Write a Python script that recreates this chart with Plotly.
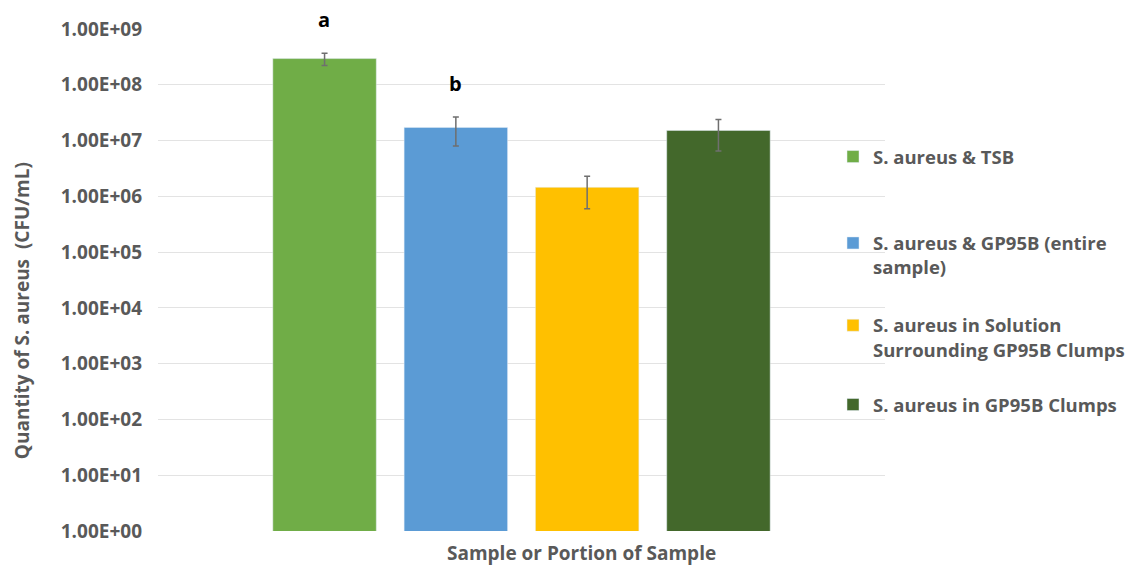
import math
import plotly.graph_objects as go

series_names = ["S. aureus & TSB", "S. aureus & GP95B (entire<br>sample)",
                "S. aureus in Solution<br>Surrounding GP95B Clumps", "S. aureus in GP95B Clumps"]
values = [2.95e8, 1.72e7, 1.45e6, 1.52e7]
errors = [7.3e7, 9.2e6, 8.5e5, 8.7e6]
colors = ["#70AD47", "#5B9BD5", "#FFC000", "#43682B"]
letters = ["a", "b", "", ""]
tick_vals = [1e0, 1e1, 1e2, 1e3, 1e4, 1e5, 1e6, 1e7, 1e8, 1e9]
tick_text = ["1.00E+00", "1.00E+01", "1.00E+02", "1.00E+03", "1.00E+04",
             "1.00E+05", "1.00E+06", "1.00E+07", "1.00E+08", "1.00E+09"]
category = ["Sample or Portion of Sample"]
x_title = "Sample or Portion of Sample"
y_title = "Quantity of S. aureus\u00a0 (CFU/mL)"

FONT = "Open Sans"
GRAY = "#595959"

# legend placement (paper coords) for each entry
legend_y = [0.745, 0.549, 0.385, 0.251]

fig = go.Figure()
for i, (n, v, e, c) in enumerate(zip(series_names, values, errors, colors)):
    lg = "legend" if i == 0 else f"legend{i + 1}"
    fig.add_trace(go.Bar(
        x=category, y=[v], name=n, marker_color=c, legend=lg,
        error_y=dict(type="data", array=[e], color="#6f6f6f", thickness=1.5, width=3),
    ))

legend_common = dict(x=0.9285, xanchor="left", yanchor="middle", valign="top",
                     font=dict(size=18.5, family=FONT, color=GRAY, weight="bold"),
                     bgcolor="rgba(0,0,0,0)", itemwidth=30)
layout_legends = {}
for i, y in enumerate(legend_y):
    key = "legend" if i == 0 else f"legend{i + 1}"
    layout_legends[key] = dict(legend_common, y=y)

fig.update_layout(
    width=1138, height=571,
    paper_bgcolor="white", plot_bgcolor="white",
    margin=dict(l=158, r=253, t=29, b=40, autoexpand=False),
    barmode="group", bargap=0.2776, bargroupgap=0.212,
    font=dict(family=FONT, color=GRAY),
    showlegend=True,
    **layout_legends,
)
fig.update_xaxes(showticklabels=False, showline=False, ticks="")
fig.update_yaxes(type="log", range=[0, 9], tickvals=tick_vals, ticktext=tick_text,
                 tickfont=dict(size=19, color=GRAY, family=FONT, weight="bold"),
                 gridcolor="#e3e3e3", gridwidth=1, zeroline=False, showline=False, ticks="",
                 ticklabelstandoff=15)

# axis titles, placed like the reference
fig.add_annotation(xref="paper", yref="paper", x=0.583, y=-0.0447, xanchor="center",
                   yanchor="middle", showarrow=False, text=f"<b>{x_title}</b>",
                   font=dict(size=19, color=GRAY, family=FONT))
fig.add_annotation(xref="paper", yref="paper", x=-0.187, y=0.438, xanchor="center",
                   yanchor="middle", showarrow=False, textangle=-90, text=f"<b>{y_title}</b>",
                   font=dict(size=19, color=GRAY, family=FONT))

# significance letters above error bars
n = len(values)
for i, (v, e, lt) in enumerate(zip(values, errors, letters)):
    if lt:
        fig.add_annotation(x=category[0], y=math.log10(v + e), yref="y", xref="x",
                           text=f"<b>{lt}</b>", showarrow=False, yanchor="middle",
                           yshift=34, xshift=(i - (n - 1) / 2) * 131.5,
                           font=dict(size=20, color="black", family=FONT))

fig.write_html("out.html", config={"displayModeBar": False},
               post_script="document.body.style.margin='0';document.body.style.overflow='hidden';")
